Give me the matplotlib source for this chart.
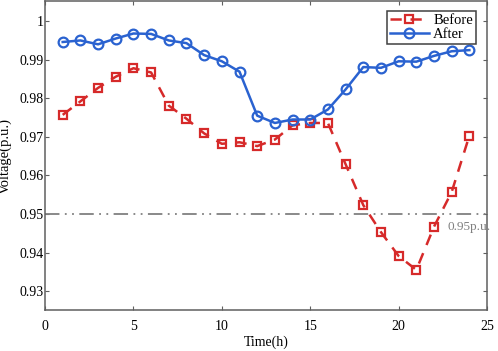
import numpy as np
import matplotlib
matplotlib.use("Agg")
import matplotlib.pyplot as plt

# Data
hours = list(range(1, 25))
before = [0.9757, 0.9792, 0.9827, 0.9856, 0.9878, 0.9867, 0.9781, 0.9747,
          0.9709, 0.9682, 0.9686, 0.9676, 0.9693, 0.9730, 0.9736, 0.9736,
          0.9629, 0.9523, 0.9453, 0.9391, 0.9355, 0.9467, 0.9557, 0.9703]
after = [0.9946, 0.9950, 0.9940, 0.9955, 0.9968, 0.9967, 0.9950, 0.9943,
         0.9912, 0.9896, 0.9869, 0.9755, 0.9736, 0.9745, 0.9745, 0.9771,
         0.9823, 0.9881, 0.9879, 0.9896, 0.9895, 0.9910, 0.9922, 0.9925]
limit = 0.95
xticks = [0, 5, 10, 15, 20, 25]
yticks = [0.93, 0.94, 0.95, 0.96, 0.97, 0.98, 0.99, 1.0]
yticklabels = ['0.93', '0.94', '0.95', '0.96', '0.97', '0.98', '0.99', '1']

plt.rcParams['font.family'] = ['Liberation Serif', 'DejaVu Serif']
plt.rcParams['font.size'] = 10

fig = plt.figure(figsize=(4.98, 3.51), dpi=100)
ax = fig.add_axes([0.0904, 0.1168, 0.8876, 0.880])

red = '#d62a2a'
blue = '#2a62d0'
grey = '#5f5f5f'

ax.axhline(limit, color='#808080', lw=1.3, dashes=[8, 3, 1, 3, 1, 3])
ax.plot(hours, before, color=red, lw=1.8, marker='s', ms=6,
        mfc='none', mew=1.6, dashes=[4.5, 3.5], label='Before')
ax.plot(hours, after, color=blue, lw=1.8, marker='o', ms=7,
        mfc='none', mew=1.6, label='After')
ax.text(22.75, 0.9466, '0.95p.u.', color='#808080', fontsize=9.5,
        va='center')

ax.set_xlim(0, 25)
ax.set_ylim(0.9251, 1.0052)
ax.set_xticks(xticks)
ax.set_yticks(yticks)
ax.set_yticklabels(yticklabels)
ax.tick_params(direction='in', top=True, right=True, labeltop=False,
               labelright=False, color=grey, length=3, labelsize=10)
ax.tick_params(axis='y', pad=1)
ax.tick_params(axis='x', pad=7)
for s in ax.spines.values():
    s.set_color(grey)
    s.set_linewidth(1.1)

ax.set_xlabel('Time(h)', fontsize=10)
ax.set_ylabel('Voltage(p.u.)', fontsize=10.5)
ax.xaxis.set_label_coords(0.5, -0.084)
ax.yaxis.set_label_coords(-0.074, 0.5)

leg = ax.legend(loc='upper right', bbox_to_anchor=(0.975, 0.968),
                fancybox=False, framealpha=1, edgecolor='#404040',
                fontsize=10.5, handlelength=2.7, borderpad=0.2,
                labelspacing=0.05, handletextpad=0.3, borderaxespad=0)
leg.get_frame().set_linewidth(1.1)

fig.savefig('out.png', dpi=100)
